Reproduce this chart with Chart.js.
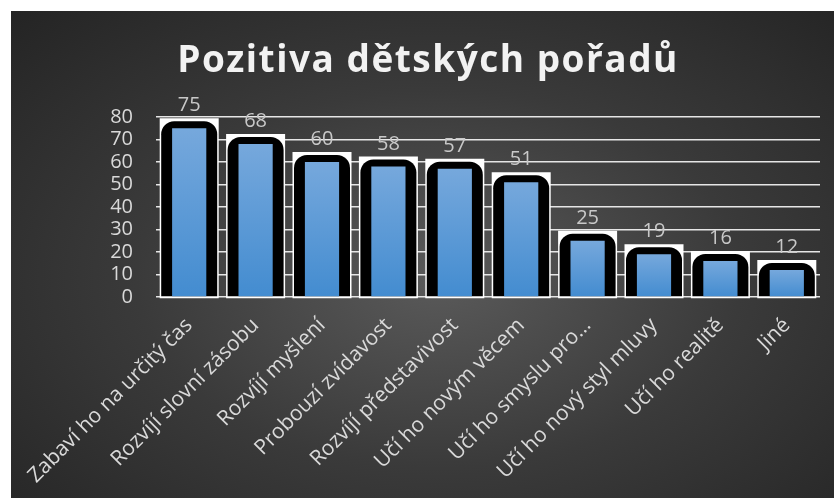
<!DOCTYPE html>
<html>
<head>
<meta charset="utf-8">
<script src="https://cdn.jsdelivr.net/npm/chart.js@4/dist/chart.umd.min.js"></script>
<style>
    body { margin: 0; background: #fff; }
    #wrap {
        position: absolute; left: 11px; top: 11px; width: 823px; height: 487px;
        background: radial-gradient(ellipse farthest-corner at 52% 55%, #5a5a5a 0%, #3a3a3a 50%, #242424 100%);
    }
</style>
</head>
<body>
<div id="wrap"><canvas id="myChart"></canvas></div>
<script>
var titleText = 'Pozitiva dětských pořadů';
var categories = ['Zabaví ho na určitý čas', 'Rozvíjí slovní zásobu', 'Rozvíjí myšlení', 'Probouzí zvídavost',
    'Rozvíjí představivost', 'Učí ho novým věcem', 'Učí ho smyslu pro…', 'Učí ho nový styl mluvy',
    'Učí ho realitě', 'Jiné'];
var values = [75, 68, 60, 58, 57, 51, 25, 19, 16, 12];
var yMin = 0, yMax = 80, yStep = 10;

// white card + black rounded frame behind each bar, value labels, title
var framePlugin = {
    id: 'frames',
    beforeDatasetsDraw: function (chart) {
        var ctx = chart.ctx;
        chart.getDatasetMeta(0).data.forEach(function (bar) {
            ctx.save();
            ctx.fillStyle = '#ffffff';
            ctx.fillRect(bar.x - 29.5, bar.y - 10, 59, bar.base - bar.y + 12);
            ctx.fillStyle = '#000000';
            ctx.beginPath();
            ctx.roundRect(bar.x - 28, bar.y - 7, 56, bar.base - bar.y + 7, [13, 13, 0, 0]);
            ctx.fill();
            ctx.restore();
        });
    },
    afterDatasetsDraw: function (chart) {
        var ctx = chart.ctx;
        ctx.save();
        ctx.font = '20px "Open Sans"';
        ctx.fillStyle = '#c8c8c8';
        ctx.textAlign = 'center';
        ctx.textBaseline = 'alphabetic';
        chart.getDatasetMeta(0).data.forEach(function (bar, i) {
            ctx.fillText(values[i], bar.x, bar.y - 17);
        });
        ctx.restore();
    },
    afterDraw: function (chart) {
        var ctx = chart.ctx;
        ctx.save();
        ctx.font = 'bold 37px "Open Sans"';
        ctx.letterSpacing = '1.5px';
        ctx.fillStyle = '#f2f2f2';
        ctx.textAlign = 'center';
        ctx.fillText(titleText, 417, 61);
        ctx.restore();
    }
};

var ctx = document.getElementById('myChart').getContext('2d');
var chart = new Chart(ctx, {
    type: 'bar',
    data: {
        labels: categories,
        datasets: [{
            data: values,
            backgroundColor: function (c) {
                var ch = c.chart;
                if (!ch.scales.y || c.raw === undefined) return '#5b9bd5';
                var top = ch.scales.y.getPixelForValue(c.raw);
                var bottom = ch.scales.y.getPixelForValue(0);
                if (!isFinite(top) || !isFinite(bottom)) return '#5b9bd5';
                var g = ch.ctx.createLinearGradient(0, top, 0, bottom);
                g.addColorStop(0, '#76a8dc');
                g.addColorStop(1, '#438cd0');
                return g;
            },
            borderWidth: 0,
            categoryPercentage: 1,
            barPercentage: 0.515
        }]
    },
    plugins: [framePlugin],
    options: {
        responsive: true,
        maintainAspectRatio: false,
        animation: false,
        layout: { padding: { top: 106, right: 14, bottom: 0, left: 0 } },
        plugins: {
            legend: { display: false },
            title: { display: false },
            tooltip: { enabled: false }
        },
        scales: {
            x: {
                grid: { display: false },
                border: { display: false },
                ticks: {
                    color: '#d9d9d9',
                    font: { family: 'Open Sans', size: 21 },
                    maxRotation: 45,
                    minRotation: 45,
                    autoSkip: false,
                    padding: 8
                },
                afterFit: function (scale) { scale.height = 201; }
            },
            y: {
                min: yMin,
                max: yMax,
                grid: { color: '#e6e6e6', lineWidth: 1.5, drawTicks: false },
                border: { display: false },
                ticks: {
                    stepSize: yStep,
                    autoSkip: false,
                    color: '#d9d9d9',
                    font: { family: 'Open Sans', size: 20 },
                    padding: 23
                },
                afterFit: function (scale) { scale.width = 145; }
            }
        }
    }
});
</script>
</body>
</html>
